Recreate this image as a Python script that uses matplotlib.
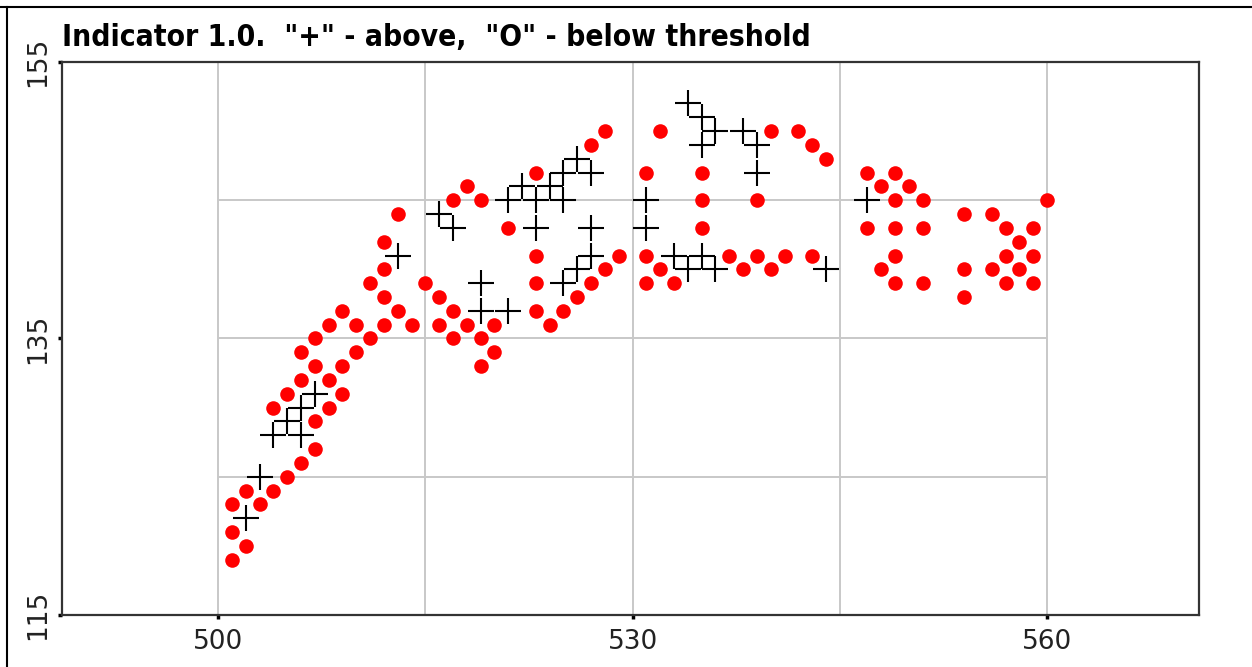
#!/usr/bin/env python3
"""Indicator scatter: '+' points above threshold, red dots below."""

import matplotlib
matplotlib.use("Agg")
import matplotlib.pyplot as plt
from matplotlib.lines import Line2D

# ── data (integer grid) ──
ABOVE_X = [502, 503, 504, 505, 506, 506, 507, 513, 516, 517,
           519, 519, 521, 521, 522, 523, 523, 524, 525, 525,
           525, 526, 526, 527, 527, 527, 531, 531, 533, 534,
           534, 535, 535, 535, 536, 536, 538, 539, 539, 544, 547]
ABOVE_Y = [122, 125, 128, 129, 128, 130, 131, 141, 144, 143,
           137, 139, 137, 145, 146, 143, 145, 146, 139, 145,
           147, 140, 148, 141, 143, 147, 143, 145, 141, 140,
           152, 141, 149, 151, 140, 150, 150, 147, 149, 140, 145]

BELOW_X = [501, 501, 501, 502, 502, 503, 504, 504, 505, 505,
           506, 506, 506, 507, 507, 507, 507, 508, 508, 508,
           509, 509, 509, 510, 510, 511, 511, 512, 512, 512,
           512, 513, 513, 514, 515, 516, 516, 517, 517, 517,
           518, 518, 519, 519, 519, 520, 520, 521, 523, 523,
           523, 523, 524, 525, 526, 527, 527, 528, 528, 529,
           531, 531, 531, 532, 532, 533, 535, 535, 535, 537,
           538, 539, 539, 540, 540, 541, 542, 543, 543, 544,
           547, 547, 548, 548, 549, 549, 549, 549, 549, 550,
           551, 551, 551, 554, 554, 554, 556, 556, 557, 557,
           557, 558, 558, 559, 559, 559, 560]
BELOW_Y = [119, 121, 123, 120, 124, 123, 124, 130, 125, 131,
           126, 132, 134, 127, 129, 133, 135, 130, 132, 136,
           131, 133, 137, 134, 136, 135, 139, 136, 138, 140,
           142, 137, 144, 136, 139, 136, 138, 135, 137, 145,
           136, 146, 133, 135, 145, 134, 136, 143, 137, 139,
           141, 147, 136, 137, 138, 139, 149, 140, 150, 141,
           139, 141, 147, 140, 150, 139, 143, 145, 147, 141,
           140, 141, 145, 140, 150, 141, 150, 141, 149, 148,
           143, 147, 140, 146, 139, 141, 143, 145, 147, 146,
           139, 143, 145, 138, 140, 144, 140, 144, 139, 141,
           143, 140, 142, 139, 141, 143, 145]

X_TICKS = [500, 530, 560]
Y_TICKS = [115, 135, 155]
X_GRID = [500, 515, 530, 545, 560]
Y_GRID = [125, 135, 145]

TITLE = 'Indicator 1.0.  "+" - above,  "O" - below threshold'


def main() -> None:
    assert len(ABOVE_X) == len(ABOVE_Y)
    assert len(BELOW_X) == len(BELOW_Y)

    W, H = 1252, 667
    fig = plt.figure(figsize=(W / 100, H / 100), dpi=100)
    # axes box in pixels: left 62, right 1199, top 62, bottom 615
    ax = fig.add_axes([62 / W, 1 - 615 / H, (1199 - 62) / W, (615 - 62) / H])
    ax.set_xlim(488.7, 571.0)
    ax.set_ylim(115, 155)

    # grid: vertical lines full height, horizontal only across the data range
    for gx in X_GRID:
        ax.axvline(gx, color="#c8c8c8", lw=1.4, zorder=0)
    ax.hlines(Y_GRID, X_GRID[0], X_GRID[-1], color="#c8c8c8", lw=1.4, zorder=0)

    ax.scatter(BELOW_X, BELOW_Y, s=110, c="#ff0000", marker="o",
               linewidths=0, zorder=2)
    ax.scatter(ABOVE_X, ABOVE_Y, s=330, c="black", marker="+",
               linewidths=1.5, zorder=3)

    ax.set_xticks(X_TICKS)
    ax.set_yticks(Y_TICKS)
    ax.set_yticklabels([str(v) for v in Y_TICKS], rotation=90, va="center")
    ax.tick_params(axis="both", length=3, width=2.5, color="black",
                   labelsize=19, labelcolor="#222222")
    ax.tick_params(axis="x", pad=7)
    ax.tick_params(axis="y", pad=5)
    for sp in ax.spines.values():
        sp.set_linewidth(1.6)
        sp.set_color("#333333")

    fig.text(62 / W, 1 - 46 / H, TITLE, ha="left", va="baseline",
             fontsize=21.5, fontweight="bold", fontstretch="condensed",
             family=["DejaVu Sans"])

    # window-like frame on the top and left edges
    fig.add_artist(Line2D([0, 1], [1 - 7 / H, 1 - 7 / H], color="black",
                          lw=1.5, transform=fig.transFigure))
    fig.add_artist(Line2D([7 / W, 7 / W], [0, 1 - 7 / H], color="black",
                          lw=1.5, transform=fig.transFigure))

    fig.savefig("out.png", dpi=100)
    plt.close(fig)


if __name__ == "__main__":
    main()
